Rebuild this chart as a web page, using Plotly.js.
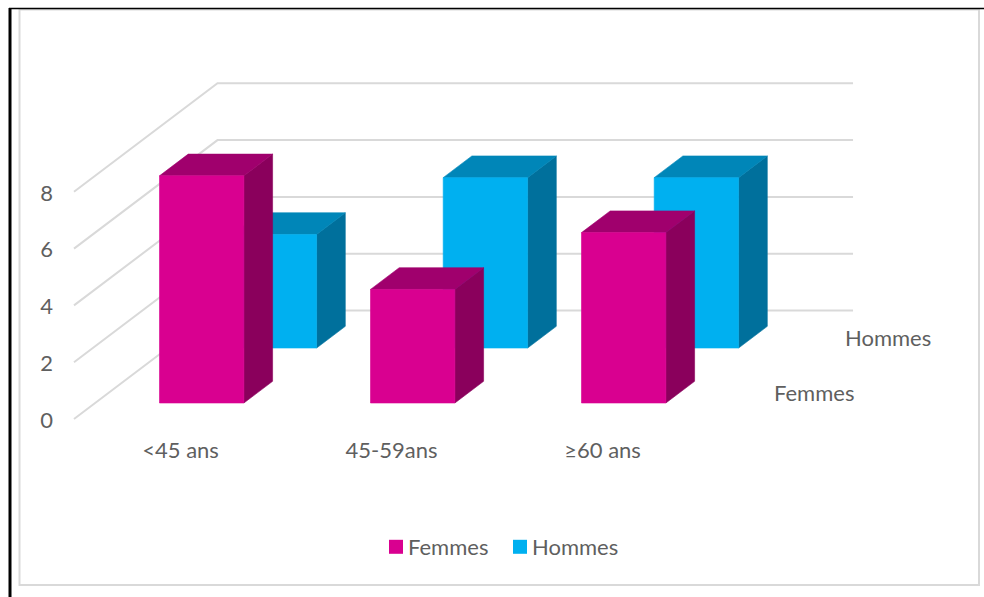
<!DOCTYPE html>
<html><head><meta charset="utf-8">
<script src="https://cdn.plot.ly/plotly-3.0.1.min.js"></script>
<style>html,body{margin:0;padding:0;background:#fff}#c{width:984px;height:597px}
.legend .legendpoints{transform:translateX(8px)}
.legend .scrollbox{clip-path:none !important}</style>
</head><body><div id="c"></div>
<script>
// Data
var categories = ['<45 ans', '45-59ans', '≥60 ans'];
var femmes = [8, 4, 6];
var hommes = [4, 6, 6];
var valueTicks = [0, 2, 4, 6, 8];

// Oblique projection used to mimic the 3D column chart
var W = 984, H = 597;
var X0 = 138.35, XU = 211, Y0 = 419, YU = 28.4;
var DX = 28.7 / XU, DY = 21.7 / YU;
var BAR = 0.4, WALL = 5, D_F = 0.737, D_H = 3.27, X_L = -0.305, X_R = 2.707;
function px(x){return (x - X0) / XU;}
function py(y){return (Y0 - y) / YU;}
function paperX(x){return x / W;}
function paperY(y){return 1 - y / H;}

function faces(vals, d){
  var f = {fx:[],fy:[],sx:[],sy:[],tx:[],ty:[]};
  vals.forEach(function(v,i){
    var a = i + d*DX, b = a + BAR, o = d*DY;
    f.fx.push(a,b,b,a,a,null); f.fy.push(o,o,v+o,v+o,o,null);
    f.sx.push(b,b+DX,b+DX,b,b,null); f.sy.push(o,o+DY,v+o+DY,v+o,o,null);
    f.tx.push(a,b,b+DX,a+DX,a,null); f.ty.push(v+o,v+o,v+o+DY,v+o+DY,v+o,null);
  });
  return f;
}
function poly(x,y,color){
  return {x:x,y:y,type:'scatter',mode:'lines',fill:'toself',fillcolor:color,
          line:{width:0.6,color:color},showlegend:false,hoverinfo:'skip'};
}
function barTraces(vals,d,cFront,cTop,cSide){
  var f = faces(vals,d);
  return [poly(f.sx,f.sy,cSide),poly(f.tx,f.ty,cTop),poly(f.fx,f.fy,cFront)];
}
var grid = valueTicks.map(function(v){
  return {x:[X_L, X_L+WALL*DX, X_R+WALL*DX], y:[v, v+WALL*DY, v+WALL*DY],
          type:'scatter',mode:'lines',line:{color:'#D9D9D9',width:2},showlegend:false,hoverinfo:'skip'};
});
function legendItem(name,color){
  return {x:[null],y:[null],type:'scatter',mode:'markers',name:name,
          marker:{symbol:'square',size:14,color:color}};
}
var traces = grid
  .concat(barTraces(hommes,D_H,'#00B0F0','#0086B8','#00709C'))
  .concat(barTraces(femmes,D_F,'#D90090','#A0006D','#8A005C'))
  .concat([legendItem('Femmes','#D90090'),legendItem('Hommes','#00B0F0')]);

var textColor = '#5f5f5f', fontFam = 'Lato, "Open Sans", sans-serif', fs = 22;
var tickPos = categories.map(function(c,i){return i + BAR/2;});
var layout = {
  width:W,height:H,margin:{l:0,r:0,t:0,b:0,pad:0},
  paper_bgcolor:'#fff',plot_bgcolor:'rgba(0,0,0,0)',
  hovermode:false,
  font:{family:fontFam,size:fs,color:textColor},
  xaxis:{range:[px(0),px(W)],anchor:'free',position:paperY(434.5),showgrid:false,zeroline:false,showline:false,
         tickmode:'array',tickvals:tickPos,ticktext:categories,ticks:'',tickfont:{family:fontFam,size:fs,color:textColor}},
  yaxis:{range:[py(H),py(0)],anchor:'free',position:paperX(53),showgrid:false,zeroline:false,showline:false,
         tickmode:'array',tickvals:valueTicks,ticktext:valueTicks.map(String),ticks:'',ticklabelshift:1,tickfont:{family:fontFam,size:fs,color:textColor}},
  showlegend:true,
  legend:{orientation:'h',x:paperX(368),y:paperY(547),xanchor:'left',yanchor:'middle',
          bgcolor:'rgba(0,0,0,0)',font:{family:fontFam,size:fs,color:textColor},traceorder:'normal',
          entrywidth:79,entrywidthmode:'pixels',itemclick:false,itemdoubleclick:false},
  annotations:[
    {x:px(888),y:py(337.5),xref:'x',yref:'y',text:'Hommes',showarrow:false,xanchor:'center',yanchor:'middle',font:{family:fontFam,size:fs,color:textColor}},
    {x:px(814),y:py(392.5),xref:'x',yref:'y',text:'Femmes',showarrow:false,xanchor:'center',yanchor:'middle',font:{family:fontFam,size:fs,color:textColor}}
  ],
  shapes:[
    {type:'rect',xref:'paper',yref:'paper',x0:paperX(19.5),x1:paperX(979),y0:paperY(585),y1:paperY(9.5),line:{color:'#D9D9D9',width:2},layer:'below'},
    {type:'line',xref:'paper',yref:'paper',x0:paperX(10),x1:paperX(10),y0:paperY(597),y1:paperY(8),line:{color:'#000',width:3},layer:'below'},
    {type:'line',xref:'paper',yref:'paper',x0:paperX(9),x1:paperX(984),y0:paperY(8.5),y1:paperY(8.5),line:{color:'#000',width:1.5},layer:'below'}
  ]
};
Plotly.newPlot('c',traces,layout,{displayModeBar:false,staticPlot:false,responsive:false});
</script></body></html>
